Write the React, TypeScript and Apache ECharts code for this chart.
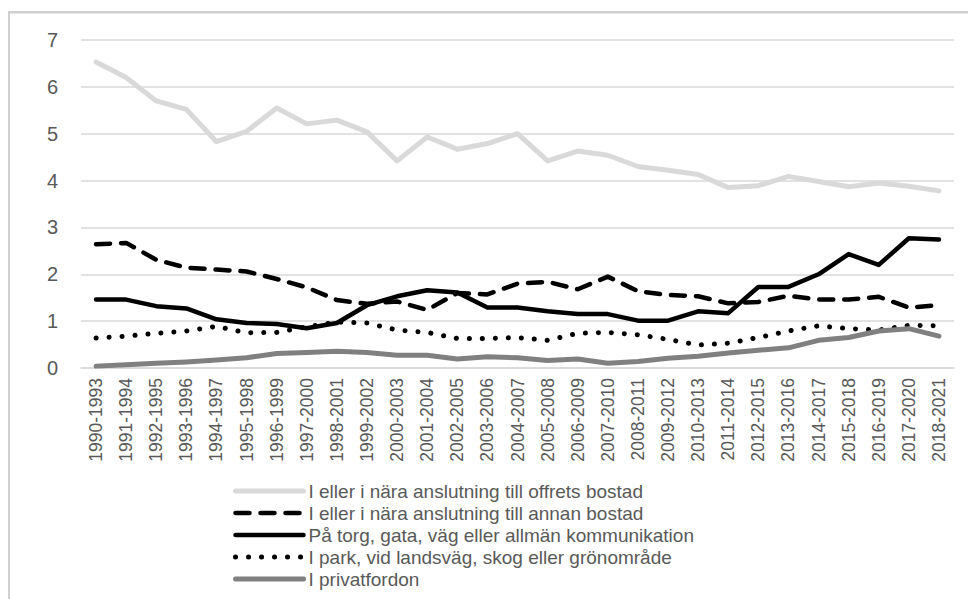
import React, { useEffect, useRef } from "react";
import * as echarts from "echarts";

const categories = [
  "1990-1993", "1991-1994", "1992-1995", "1993-1996", "1994-1997", "1995-1998",
  "1996-1999", "1997-2000", "1998-2001", "1999-2002", "2000-2003", "2001-2004",
  "2002-2005", "2003-2006", "2004-2007", "2005-2008", "2006-2009", "2007-2010",
  "2008-2011", "2009-2012", "2010-2013", "2011-2014", "2012-2015", "2013-2016",
  "2014-2017", "2015-2018", "2016-2019", "2017-2020", "2018-2021",
];

const offretsBostad = [
  6.53, 6.2, 5.7, 5.52, 4.83, 5.05, 5.55, 5.21, 5.29, 5.04, 4.42, 4.93, 4.67, 4.79,
  5.0, 4.42, 4.63, 4.54, 4.3, 4.22, 4.13, 3.85, 3.89, 4.09, 3.98, 3.87, 3.95, 3.88, 3.78,
];
const annanBostad = [
  2.64, 2.67, 2.31, 2.14, 2.1, 2.06, 1.9, 1.72, 1.45, 1.37, 1.42, 1.24, 1.6, 1.57,
  1.8, 1.84, 1.68, 1.95, 1.64, 1.56, 1.53, 1.38, 1.41, 1.54, 1.46, 1.46, 1.52, 1.29, 1.34,
];
const torgGata = [
  1.46, 1.46, 1.32, 1.27, 1.04, 0.96, 0.94, 0.85, 0.96, 1.34, 1.53, 1.66, 1.61, 1.29,
  1.29, 1.21, 1.15, 1.15, 1.01, 1.01, 1.21, 1.17, 1.73, 1.73, 2.0, 2.43, 2.2, 2.77, 2.74,
];
const parkSkog = [
  0.64, 0.68, 0.74, 0.79, 0.89, 0.75, 0.76, 0.88, 0.98, 0.96, 0.81, 0.76, 0.63, 0.63,
  0.65, 0.59, 0.74, 0.76, 0.71, 0.61, 0.49, 0.53, 0.65, 0.79, 0.9, 0.84, 0.81, 0.91, 0.9,
];
const privatfordon = [
  0.04, 0.07, 0.1, 0.13, 0.17, 0.22, 0.31, 0.33, 0.36, 0.33, 0.27, 0.27, 0.19, 0.24,
  0.22, 0.16, 0.19, 0.1, 0.14, 0.21, 0.25, 0.32, 0.38, 0.43, 0.59, 0.65, 0.79, 0.84, 0.68,
];

const seriesNames = [
  "I eller i nära anslutning till offrets bostad",
  "I eller i nära anslutning till annan bostad",
  "På torg, gata, väg eller allmän kommunikation",
  "I park, vid landsväg, skog eller grönområde",
  "I privatfordon",
];

const FONT = "'Liberation Sans', Arial, sans-serif";
const TEXT = "#595959";
const GRID = "#d9d9d9";
const BORDER = "#d0d0d0";

const styles: { color: string; width: number; type: any }[] = [
  { color: "#d9d9d9", width: 5, type: "solid" },
  { color: "#000000", width: 4.5, type: [14, 11] },
  { color: "#000000", width: 4.5, type: "solid" },
  { color: "#000000", width: 5, type: [0.1, 12.9] },
  { color: "#808080", width: 5, type: "solid" },
];

const seriesData = [offretsBostad, annanBostad, torgGata, parkSkog, privatfordon];

export default function App() {
  const ref = useRef<HTMLDivElement>(null);
  useEffect(() => {
    if (!ref.current) return;
    const chart = echarts.init(ref.current, null, { renderer: "svg" });
    chart.setOption({
      animation: false,
      textStyle: { fontFamily: FONT },
      graphic: [
        {
          type: "rect",
          z: 100,
          silent: true,
          shape: { x: 8, y: 11, width: 960, height: 2.5 },
          style: { fill: BORDER },
        },
        {
          type: "rect",
          z: 100,
          silent: true,
          shape: { x: 8, y: 11, width: 2, height: 588 },
          style: { fill: BORDER },
        },
      ],
      grid: { left: 81, right: 14, top: 40, bottom: 231, containLabel: false },
      xAxis: {
        type: "category",
        data: categories,
        boundaryGap: true,
        axisLine: { show: true, lineStyle: { color: GRID, width: 1.5 } },
        axisTick: { show: false },
        axisLabel: {
          rotate: 90,
          interval: 0,
          fontSize: 17.5,
          color: TEXT,
          margin: 10,
          fontFamily: FONT,
        },
      },
      yAxis: {
        type: "value",
        min: 0,
        max: 7,
        interval: 1,
        axisLine: { show: false },
        axisTick: { show: false },
        splitLine: { lineStyle: { color: GRID, width: 1.5 } },
        axisLabel: { fontSize: 20, color: TEXT, margin: 23, fontFamily: FONT },
      },
      legend: {
        orient: "vertical",
        left: 228,
        top: 475,
        itemWidth: 68,
        itemHeight: 12,
        itemGap: 0,
        selectedMode: false,
        itemStyle: { opacity: 0 },
        textStyle: { fontSize: 19, color: TEXT, lineHeight: 22, fontFamily: FONT },
        data: seriesNames.map((name, i) => ({
          name,
          lineStyle: {
            color: styles[i].color,
            width: styles[i].width,
            type: styles[i].type,
            cap: "round",
          },
        })),
      },
      series: seriesNames.map((name, i) => ({
        name,
        type: "line",
        data: seriesData[i],
        symbol: "none",
        smooth: false,
        lineStyle: {
          color: styles[i].color,
          width: styles[i].width,
          type: styles[i].type,
          cap: "round",
          join: "round",
        },
        itemStyle: { color: styles[i].color },
      })),
    });
    return () => chart.dispose();
  }, []);
  return (
    <div
      ref={ref}
      style={{ position: "absolute", left: 0, top: 0, width: 968, height: 599 }}
    />
  );
}
